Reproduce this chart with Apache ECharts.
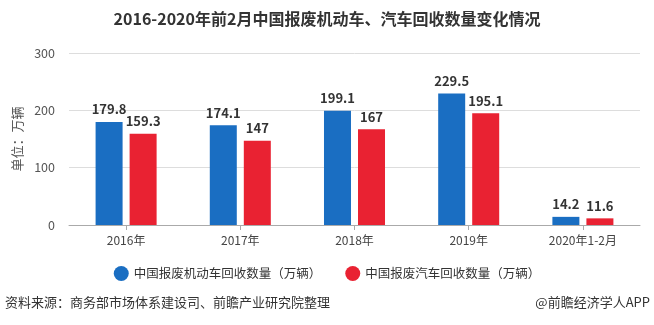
<!DOCTYPE html>
<html><head><meta charset="utf-8">
<script src="https://cdn.jsdelivr.net/npm/echarts@6/dist/echarts.min.js"></script>
<style>html,body{margin:0;padding:0;background:#fff}#c{width:654px;height:325px}</style>
</head><body><div id="c"></div>
<script>
var categories = ['2016年','2017年','2018年','2019年','2020年1-2月'];
var motorVehicles = [179.8, 174.1, 199.1, 229.5, 14.2];
var automobiles = [159.3, 147, 167, 195.1, 11.6];
var seriesNames = ['中国报废机动车回收数量（万辆）','中国报废汽车回收数量（万辆）'];
var yTicks = {min:0, max:300, interval:100};

var chart = echarts.init(document.getElementById('c'));
var font = '"Microsoft YaHei","Noto Sans CJK SC",sans-serif';
var labelStyle = {show:true, position:'top', color:'#333', fontWeight:'bold', fontSize:13, fontFamily:font, distance:6};
chart.setOption({
  animation:false,
  title:{text:'2016-2020年前2月中国报废机动车、汽车回收数量变化情况', left:'center', top:6,
    textStyle:{fontSize:16, fontWeight:'bold', color:'#333', fontFamily:font}},
  grid:{left:69, right:14, top:53, bottom:100},
  legend:{bottom:39, left:'center', itemWidth:15, itemHeight:15, icon:'circle', itemGap:24,
    textStyle:{fontSize:12.5, color:'#333', fontFamily:font}},
  xAxis:{type:'category', data:categories,
    axisLine:{lineStyle:{color:'#aaa'}}, axisTick:{show:true, alignWithLabel:true, lineStyle:{color:'#aaa'}},
    axisLabel:{color:'#444', fontSize:12, fontFamily:font, margin:9}},
  yAxis:{type:'value', min:yTicks.min, max:yTicks.max, interval:yTicks.interval,
    name:'单位：万辆', nameLocation:'middle', nameGap:42, nameRotate:90,
    nameTextStyle:{color:'#555', fontSize:13, fontFamily:font},
    axisLine:{show:false}, axisTick:{show:false},
    axisLabel:{color:'#555', fontSize:12.5, fontFamily:font, margin:14},
    splitLine:{lineStyle:{color:'#ddd'}}},
  series:[
    {name:seriesNames[0], type:'bar', data:motorVehicles, barWidth:27, barGap:'26%',
      itemStyle:{color:'#1a6ec2'}, label:labelStyle},
    {name:seriesNames[1], type:'bar', data:automobiles, barWidth:27,
      itemStyle:{color:'#e92232'}, label:labelStyle}
  ],
  graphic:[
    {type:'text', left:5, top:296, style:{text:'资料来源：商务部市场体系建设司、前瞻产业研究院整理', fill:'#333', font:'13px '+font}},
    {type:'text', right:4, top:296, style:{text:'@前瞻经济学人APP', fill:'#333', font:'13px '+font}}
  ]
});
</script></body></html>
